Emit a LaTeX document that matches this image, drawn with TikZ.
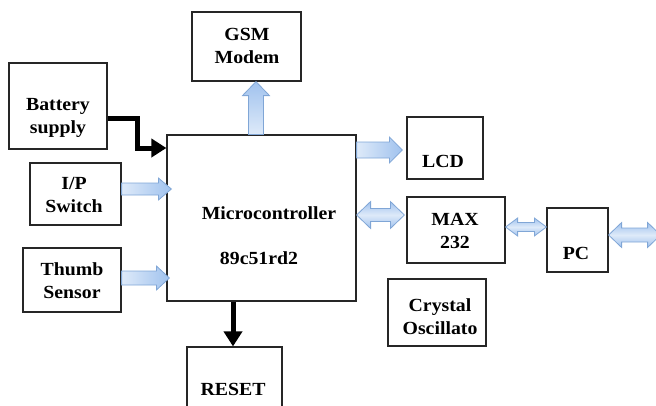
\documentclass[tikz,border=0pt]{standalone}
\usepackage{fontspec}
\setmainfont{Liberation Serif}[FakeStretch=1.07]
\usetikzlibrary{calc,arrows.meta}
\definecolor{arrowedge}{RGB}{128,166,214}
\definecolor{arrowlight}{RGB}{222,234,249}
\definecolor{arrowdark}{RGB}{160,194,238}
\newcommand{\blockarrowS}[6][]{%
  \coordinate (baA) at (#2); \coordinate (baB) at (#3);
  \coordinate (baC) at ($(baB)!#6!(baA)$);
  \path[bluearrow,#1] ($(baA)!#4!90:(baB)$) -- ($(baC)!#4!90:(baB)$) -- ($(baC)!#5!90:(baB)$) -- (baB)
     -- ($(baC)!#5!-90:(baB)$) -- ($(baC)!#4!-90:(baB)$) -- ($(baA)!#4!-90:(baB)$) -- cycle;}
\newcommand{\blockarrowD}[6][]{%
  \coordinate (baA) at (#2); \coordinate (baB) at (#3);
  \coordinate (baC) at ($(baA)!#6!(baB)$);
  \coordinate (baD) at ($(baB)!#6!(baA)$);
  \path[bluearrow,#1] (baA) -- ($(baC)!#5!90:(baB)$) -- ($(baC)!#4!90:(baB)$) -- ($(baD)!#4!90:(baB)$)
     -- ($(baD)!#5!90:(baB)$) -- (baB) -- ($(baD)!#5!-90:(baB)$) -- ($(baD)!#4!-90:(baB)$)
     -- ($(baC)!#4!-90:(baB)$) -- ($(baC)!#5!-90:(baB)$) -- cycle;}
\tikzset{
  box/.style={draw=black!85, line width=1.2pt, inner sep=0pt},
  lbl/.style={font=\fontsize{18.5}{23}\selectfont\bfseries, align=center, inner sep=0pt},
  bluearrow/.style={draw=arrowedge, line width=0.8pt, left color=arrowlight, right color=arrowdark},
  blackarr/.style={draw=black, line width=5pt, line join=miter, -{Triangle[length=15pt,width=18pt]}}
}
\begin{document}
\begin{tikzpicture}[x=1pt,y=-1pt]
\useasboundingbox (0,0) rectangle (656,405);
\clip (0,0) rectangle (656,405);
% boxes
\node[box, minimum width=98pt, minimum height=86pt] (battery) at (58,106) {};
\node[box, minimum width=109pt, minimum height=69pt] (gsm) at (246.5,46.5) {};
\node[box, minimum width=91pt, minimum height=62pt] (ip) at (75.5,194) {};
\node[box, minimum width=98pt, minimum height=64pt] (thumb) at (72,280) {};
\node[box, minimum width=189pt, minimum height=166pt] (micro) at (261.5,218) {};
\node[box, minimum width=76pt, minimum height=62pt] (lcd) at (445,148) {};
\node[box, minimum width=98pt, minimum height=66pt] (max) at (456,230) {};
\node[box, minimum width=61pt, minimum height=64pt] (pc) at (577.5,240) {};
\node[box, minimum width=98pt, minimum height=67pt] (xtal) at (437,312.5) {};
\node[box, minimum width=95pt, minimum height=80pt] (reset) at (234.5,387) {};
% texts
\node[lbl] (batterytxt) at (58,118) {Battery\\supply};
\node[lbl] (gsmtxt) at (247,46) {GSM\\Modem};
\node[lbl] (iptxt) at (74,195) {I/P\\Switch};
\node[lbl] (thumbtxt) at (72,281) {Thumb\\Sensor};
\node[lbl] (microtxt1) at (269,213) {Microcontroller};
\node[lbl] (microtxt2) at (259,258) {89c51rd2};
\node[lbl] (lcdtxt) at (443,161) {LCD};
\node[lbl] (maxtxt) at (455,231) {MAX\\232};
\node[lbl] (pctxt) at (576,253) {PC};
\node[lbl] (xtaltxt) at (440,317) {Crystal\\Oscillato};
\node[lbl] (resettxt) at (233,389) {RESET};
% black arrows
\coordinate (batout) at ($(battery.east)+(0,12)$);
\coordinate (batin) at ($(micro.west)+(0,-70)$);
\draw[blackarr] (batout) -| ($(batout)!0.5!(batin)$) |- (batin);
\coordinate (resetin) at ($(reset.north)+(-1.5,0)$);
\draw[blackarr] (micro.south -| resetin) -- (resetin);
% blue arrows
\coordinate (gsmtip) at ($(gsm.south)+(9.5,0)$);
\blockarrowS[top color=arrowdark, bottom color=arrowlight]{micro.north -| gsmtip}{gsmtip}{7.5pt}{13.5pt}{14pt}
\coordinate (lcdtip) at ($(lcd.west)+(-4,2)$);
\blockarrowS{micro.east |- lcdtip}{lcdtip}{8pt}{13pt}{13pt}
\coordinate (ipout) at ($(ip.east)+(0,-5)$);
\coordinate (iptip) at ($(micro.west |- ipout)+(5,0)$);
\blockarrowS{ipout}{iptip}{6pt}{11pt}{13pt}
\coordinate (thumbout) at ($(thumb.east)+(0,-2)$);
\coordinate (thumbtip) at ($(micro.west |- thumbout)+(3,0)$);
\blockarrowS{thumbout}{thumbtip}{7pt}{12pt}{13pt}
\coordinate (maxin) at ($(max.west)+(-2,-15)$);
\blockarrowD[top color=arrowdark, bottom color=arrowdark, middle color=arrowlight]{micro.east |- maxin}{maxin}{6.5pt}{13.5pt}{14pt}
\coordinate (maxout) at ($(max.east)+(0,-3)$);
\blockarrowD[top color=arrowdark, bottom color=arrowdark, middle color=arrowlight]{maxout}{pc.west |- maxout}{4.5pt}{9pt}{12pt}
\coordinate (pcout) at ($(pc.east)+(0,-5)$);
\coordinate (pcfar) at ($(pcout)+(52,0)$);
\blockarrowD[top color=arrowdark, bottom color=arrowdark, middle color=arrowlight]{pcout}{pcfar}{7pt}{12.5pt}{13pt}
\end{tikzpicture}
\end{document}
